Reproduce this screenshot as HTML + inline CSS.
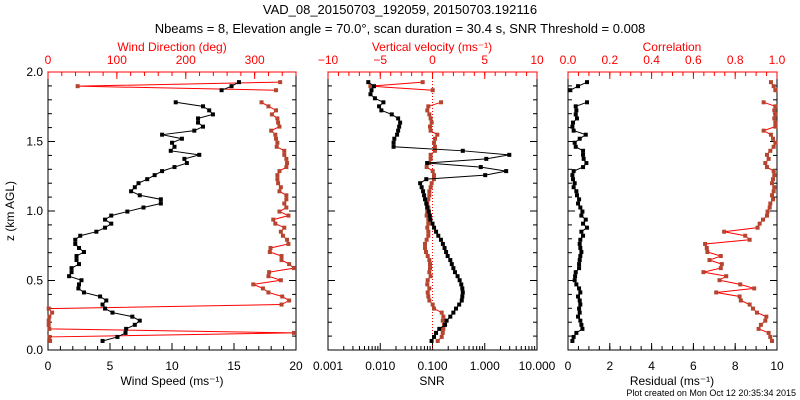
<!DOCTYPE html>
<html><head><meta charset="utf-8"><style>
html,body{margin:0;padding:0;background:#fff;}
svg{display:block;font-family:"Liberation Sans",sans-serif;}
</style></head><body>
<svg id="c" width="800" height="400" viewBox="0 0 800 400">
<text x="400" y="14" text-anchor="middle" font-size="13">VAD_08_20150703_192059, 20150703.192116</text>
<text x="400" y="33" text-anchor="middle" font-size="13">Nbeams = 8, Elevation angle = 70.0°, scan duration = 30.4 s, SNR Threshold = 0.008</text>
<text x="14" y="211" text-anchor="middle" font-size="12" transform="rotate(-90 14 211)">z (km AGL)</text>
<text x="796" y="396" text-anchor="end" font-size="9">Plot created on Mon Oct 12 20:35:34 2015</text>
</svg>
<script>
const heights=[0.065,0.094,0.123,0.152,0.181,0.211,0.240,0.269,0.298,0.327,0.356,0.385,0.414,0.443,0.472,0.502,0.531,0.560,0.589,0.618,0.647,0.676,0.705,0.734,0.763,0.793,0.822,0.851,0.880,0.909,0.938,0.967,0.996,1.025,1.054,1.084,1.113,1.142,1.171,1.200,1.229,1.258,1.287,1.316,1.345,1.375,1.404,1.433,1.462,1.491,1.520,1.549,1.578,1.607,1.636,1.666,1.695,1.724,1.753,1.782,1.811,1.840,1.869,1.898,1.927];
const windSpeed=[4.4,5.6,6.25,6.3,7.0,7.4,6.8,5.2,4.6,4.4,4.7,4.2,2.9,2.45,2.5,2.7,1.7,1.9,1.9,2.5,2.3,2.3,2.9,2.5,2.2,2.2,2.6,3.9,4.6,5.1,4.6,5.1,6.4,7.7,9.1,9.1,7.4,6.7,7.0,7.3,8.0,8.6,9.2,10.2,11.2,11.0,12.2,9.9,10.2,10.0,10.8,9.2,11.8,12.5,12.1,12.1,13.3,13.0,12.5,10.3,null,null,14.0,14.8,15.4];
const windDir=[3,2,357,2,1,1,2,6,1,339,350,340,320,312,298,338,320,321,357,350,339,339,322,323,349,347,341,338,343,330,327,349,336,346,343,346,346,336,338,334,333,333,336,346,347,346,343,343,332,333,331,330,324,336,334,333,325,331,320,310,null,null,331,43,337];
const snr=[0.096,0.107,0.117,0.135,0.174,0.186,0.219,0.251,0.282,0.324,0.363,0.372,0.38,0.372,0.355,0.331,0.302,0.269,0.251,0.234,0.219,0.195,0.182,0.17,0.158,0.145,0.129,0.117,0.107,0.1,0.091,0.089,0.085,0.079,0.076,0.072,0.069,0.066,0.062,0.058,0.076,1.02,2.57,0.84,0.079,1.07,2.95,0.38,0.018,0.018,0.0186,0.021,0.022,0.023,0.024,0.022,0.0166,0.0105,0.0095,0.0115,0.0079,0.0065,0.0068,0.0076,0.0059];
const vertVel=[0.5,0.88,0.98,1.04,1.1,0.98,1.04,0.88,0.14,0.02,-0.3,-0.4,-0.46,-0.3,-0.5,-0.46,-0.18,-0.3,-0.24,-0.24,-0.3,-0.46,-0.62,-0.72,-0.72,-0.56,-0.4,-0.4,-0.5,-0.4,-0.4,-0.56,-0.5,-0.4,-0.5,-0.4,-0.3,-0.3,-0.18,-0.08,0.14,0.14,0.02,-0.56,-0.3,-0.18,-0.18,0.24,0.24,0.14,0.24,0.46,-0.18,-0.24,-0.08,-0.18,-0.3,-0.5,-0.4,0.82,null,null,0.02,-5.94,-0.94];
const residual=[0.21,0.27,0.4,0.69,0.64,0.59,0.48,0.56,0.53,0.59,0.56,0.48,0.59,0.53,0.4,0.32,0.34,0.37,0.53,0.53,0.56,0.59,0.64,0.59,0.56,0.59,0.72,0.64,0.91,0.72,0.85,0.64,0.69,0.59,0.48,0.53,0.43,0.4,0.27,0.32,0.24,0.21,0.27,0.72,0.88,0.75,0.72,0.72,0.37,0.32,0.56,0.85,0.27,0.21,0.24,0.43,0.37,0.4,0.37,0.91,null,null,0.11,0.48,0.91];
const correlation=[0.976,0.968,0.96,0.912,0.923,0.944,0.949,0.904,0.885,0.869,0.827,0.821,0.709,0.891,0.824,0.725,0.757,0.648,0.731,0.736,0.677,0.731,0.667,0.664,0.656,0.869,0.848,0.747,0.907,0.917,0.933,0.952,0.955,0.965,0.968,0.981,0.976,0.984,0.987,0.976,0.981,0.987,0.984,0.952,0.944,0.96,0.952,0.968,0.984,0.992,0.981,0.971,0.936,0.992,0.992,0.987,0.992,0.987,0.992,0.936,null,null,0.992,0.984,0.971];
const yTicks=["0.0","0.5","1.0","1.5","2.0"];
const speedTicks=["0","5","10","15","20"];
const dirTicks=["0","100","200","300"];
const snrTicks=["0.001","0.010","0.100","1.000","10.000"];
const wTicks=["\u221210","\u22125","0","5","10"];
const resTicks=["0","2","4","6","8","10"];
const corrTicks=["0.0","0.2","0.4","0.6","0.8","1.0"];

const svg=document.getElementById('c');
const NS='http://www.w3.org/2000/svg';
const TOP=72,BOT=350;
function y(z){return BOT-(z/2)*(BOT-TOP);}
function lin(a,b,x0,x1){return v=>x0+(v-a)/(b-a)*(x1-x0);}
function mk(tag,attrs){const e=document.createElementNS(NS,tag);for(const k in attrs)e.setAttribute(k,attrs[k]);svg.appendChild(e);return e;}
function txt(x,yy,s,col,anchor,size){const t=mk('text',{x:x,y:yy,'text-anchor':anchor||'middle','font-size':size||12,fill:col||'#000'});t.textContent=s;return t;}

const P=[{x0:48,x1:296,n:'wind'},{x0:328,x1:537,n:'snr'},{x0:568,x1:777,n:'res'}];
P.forEach(p=>{
  const r=mk('rect',{x:p.x0,y:TOP,width:p.x1-p.x0,height:BOT-TOP,fill:'none',stroke:'#000','stroke-width':1});
  
  
  for(let k=0;k<=20;k++){const yy=y(k*0.1);const L=(k%5==0)?7:4;
    mk('line',{x1:p.x0,x2:p.x0+L,y1:yy,y2:yy,stroke:'#000'});
    mk('line',{x1:p.x1,x2:p.x1-L,y1:yy,y2:yy,stroke:'#000'});}
});
yTicks.forEach((s,i)=>{const t=txt(43,y(i*0.5)+4,s,'#000','end');
  
  });

function bottomTicks(p,vals,sc,minor){minor.forEach(v=>mk('line',{x1:sc(v),x2:sc(v),y1:BOT,y2:BOT-4,stroke:'#000'}));
  vals.forEach(v=>{mk('line',{x1:sc(v),x2:sc(v),y1:BOT,y2:BOT-7,stroke:'#000'});});}
function topTicks(p,vals,sc,minor){const c='#f00';
  mk('line',{x1:p.x0,x2:p.x1,y1:TOP,y2:TOP,stroke:c});
  minor.forEach(v=>mk('line',{x1:sc(v),x2:sc(v),y1:TOP,y2:TOP+4,stroke:c}));
  vals.forEach(v=>{mk('line',{x1:sc(v),x2:sc(v),y1:TOP,y2:TOP+7,stroke:c});});}
function range(a,b,s){const o=[];for(let v=a;v<=b+1e-9;v+=s)o.push(+v.toFixed(4));return o;}

const sx=lin(0,20,48,296), dx=lin(0,360,48,296);
bottomTicks(P[0],[0,5,10,15,20],sx,range(0,20,1));
topTicks(P[0],[0,100,200,300],dx,range(0,360,20));
speedTicks.forEach((s,i)=>{const t=txt(sx(i*5),370,s);});
dirTicks.forEach((s,i)=>{const t=txt(dx(i*100),64,s,'#f00');});
let t;
t=txt(172,385,'Wind Speed (ms\u207B\u00B9)');
t=txt(172,51,'Wind Direction (deg)','#f00');

const lx=v=>328+(Math.log10(v)+3)/4*(537-328), wx=lin(-10,10,328,537);
const snrMinor=[];[0.001,0.01,0.1,1].forEach(d=>{for(let m=2;m<=9;m++)snrMinor.push(d*m);});
bottomTicks(P[1],[0.001,0.01,0.1,1,10],lx,snrMinor);
topTicks(P[1],[-10,-5,0,5,10],wx,range(-10,10,1));
snrTicks.forEach((s,i)=>{const t=txt(lx(Math.pow(10,i-3)),370,s);});
wTicks.forEach((s,i)=>{const t=txt(wx(-10+5*i),64,s,'#f00');});
t=txt(432,385,'SNR');
t=txt(432,51,'Vertical velocity (ms\u207B\u00B9)','#f00');
const zl=mk('line',{x1:wx(0),x2:wx(0),y1:TOP,y2:BOT,stroke:'#f00','stroke-dasharray':'1,2'});



const rx=lin(0,10,568,777), cx=lin(0,1,568,777);
bottomTicks(P[2],[0,2,4,6,8,10],rx,range(0,10,0.5));
topTicks(P[2],[0,0.2,0.4,0.6,0.8,1],cx,range(0,1,0.05));
resTicks.forEach((s,i)=>{const t=txt(rx(i*2),370,s);});
corrTicks.forEach((s,i)=>{const t=txt(cx(i*0.2),64,s,'#f00');});
t=txt(672,385,'Residual (ms\u207B\u00B9)');
t=txt(672,51,'Correlation','#f00');

function series(vals,sc,lineCol,markCol,name){
  let segs=[],cur=[];
  vals.forEach((v,i)=>{if(v==null){if(cur.length)segs.push(cur);cur=[];}else cur.push([sc(v),y(heights[i])]);});
  if(cur.length)segs.push(cur);
  segs.forEach(s=>{const pl=mk('polyline',{points:s.map(p=>p.join(',')).join(' '),fill:'none',stroke:lineCol,'stroke-width':1});
    
    });
  vals.forEach((v,i)=>{if(v==null)return;
    const m=mk('rect',{x:sc(v)-2,y:y(heights[i])-2,width:4,height:4,fill:markCol});
    
    });
}
series(windDir,dx,'#f00','#b5452f','wind-direction');
series(windSpeed,sx,'#000','#000','wind-speed');
series(vertVel,wx,'#f00','#b5452f','vertical-velocity');
series(snr,lx,'#000','#000','snr');
series(correlation,cx,'#f00','#b5452f','correlation');
series(residual,rx,'#000','#000','residual');
</script>
</body></html>
